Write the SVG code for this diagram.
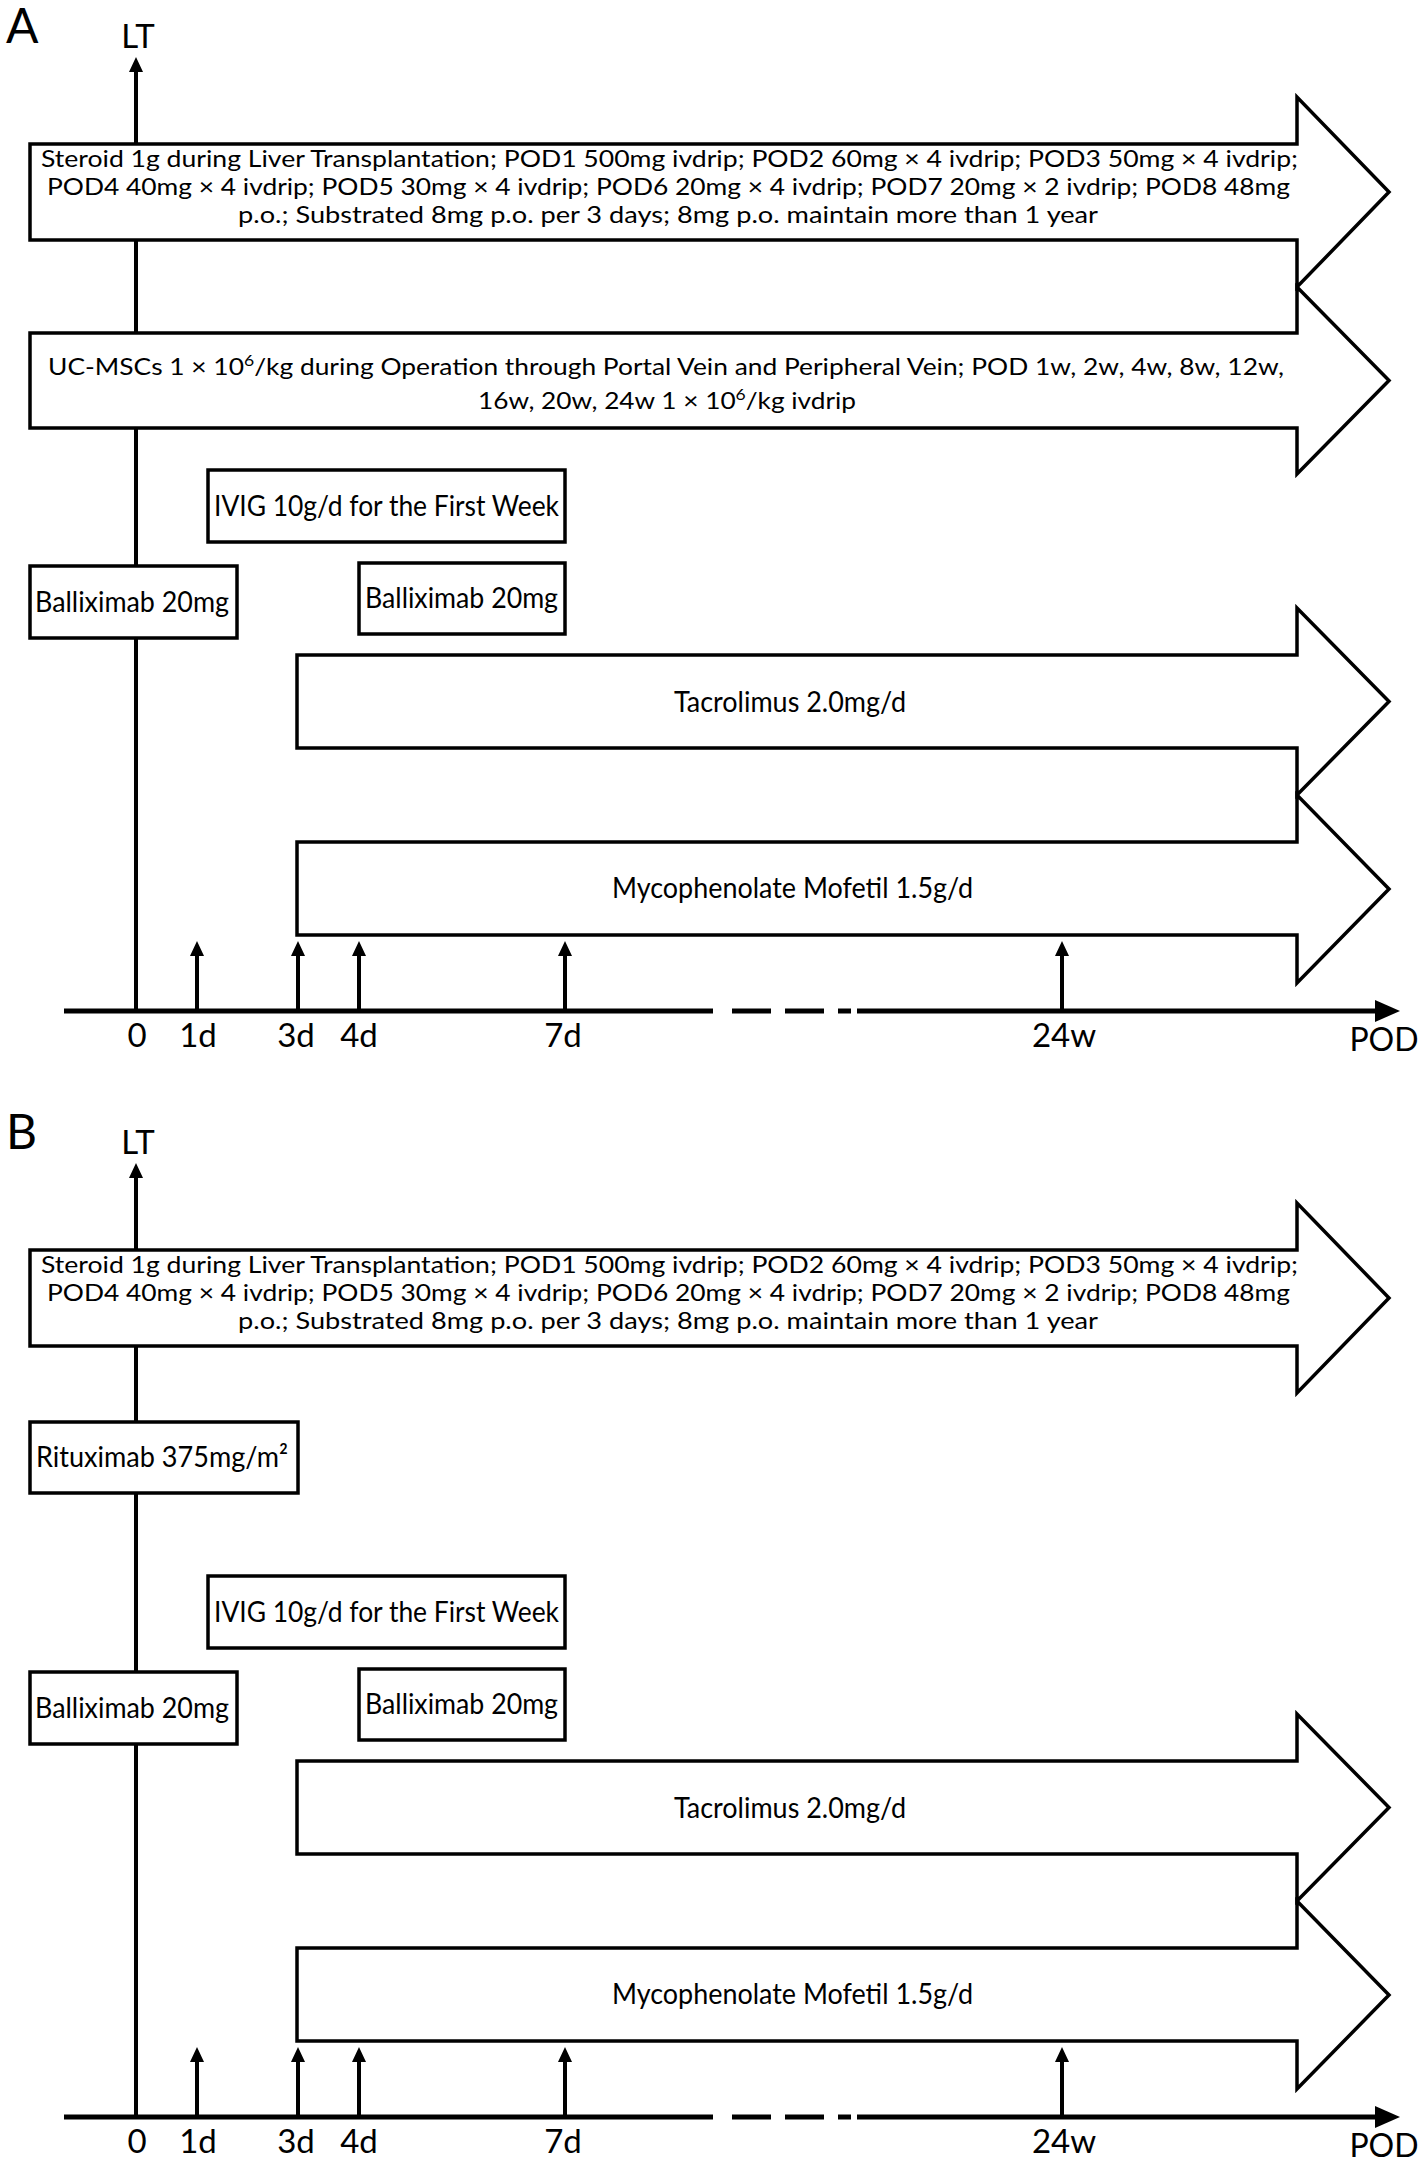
<svg xmlns="http://www.w3.org/2000/svg" width="1418" height="2162" viewBox="0 0 1418 2162">
<style>
text{font-family:Lato,"Open Sans","Liberation Sans",sans-serif;fill:#000}
.shape{fill:#fff;stroke:#000;stroke-width:3.5;stroke-linejoin:miter}
.box{fill:#fff;stroke:#000;stroke-width:3.5}
.sm{font-size:24px}
.bx{font-size:28.5px}
.ax{font-size:33px;text-anchor:middle}
.lt{stroke:#000;stroke-width:4;fill:none}
.tick{stroke:#000;stroke-width:4;fill:none;marker-end:url(#ah)}
.axis{stroke:#000;stroke-width:5;fill:none}
.panel{font-size:48px}
</style>
<defs>
<marker id="ah" markerUnits="userSpaceOnUse" markerWidth="16" markerHeight="16" refX="0" refY="8" orient="auto" viewBox="0 0 16 16">
<path d="M0,1 L15,8 L0,15 Z" fill="#000"/>
</marker>
</defs>

<!-- ========== PANEL A ========== -->
<g id="labelA"><text class="panel" x="6" y="43">A</text></g>
<g id="ltA"><text x="138" y="48" font-size="33" text-anchor="middle">LT</text></g>

<g id="connectorsA">
<line class="lt" x1="136" y1="1011" x2="136" y2="72" marker-end="url(#ah)"/>
<line class="tick" x1="197" y1="1011" x2="197" y2="956"/>
<line class="tick" x1="298" y1="1011" x2="298" y2="956"/>
<line class="tick" x1="359" y1="1011" x2="359" y2="956"/>
<line class="tick" x1="565" y1="1011" x2="565" y2="956"/>
<line class="tick" x1="1062" y1="1011" x2="1062" y2="956"/>
<g class="axis">
<line x1="64" y1="1011" x2="713" y2="1011"/>
<line x1="732" y1="1011" x2="771" y2="1011"/>
<line x1="785" y1="1011" x2="824" y2="1011"/>
<line x1="838" y1="1011" x2="851" y2="1011"/>
<line x1="857" y1="1011" x2="1377" y2="1011"/>
</g>
<polygon points="1375,1000 1400,1011 1375,1022" fill="#000"/>
</g>

<g id="steroidA">
<path class="shape" d="M30,144 H1297 V97 L1389,192 L1297,287 V240 H30 Z"/>
<text class="sm" x="41" y="167" textLength="1257" lengthAdjust="spacingAndGlyphs">Steroid 1g during Liver Transplantation; POD1 500mg ivdrip; POD2 60mg × 4 ivdrip; POD3 50mg × 4 ivdrip;</text>
<text class="sm" x="47" y="195" textLength="1243" lengthAdjust="spacingAndGlyphs">POD4 40mg × 4 ivdrip; POD5 30mg × 4 ivdrip; POD6 20mg × 4 ivdrip; POD7 20mg × 2 ivdrip; POD8 48mg</text>
<text class="sm" x="238" y="223" textLength="860" lengthAdjust="spacingAndGlyphs">p.o.; Substrated 8mg p.o. per 3 days; 8mg p.o. maintain more than 1 year</text>
</g>

<g id="ucmscA">
<path class="shape" d="M30,333 H1297 V287 L1389,380.5 L1297,474 V428 H30 Z"/>
<text class="sm" x="48" y="375" textLength="1236" lengthAdjust="spacingAndGlyphs">UC-MSCs 1 × 10<tspan dy="-9" font-size="16">6</tspan><tspan dy="9">/kg during Operation through Portal Vein and Peripheral Vein; POD 1w, 2w, 4w, 8w, 12w,</tspan></text>
<text class="sm" x="478" y="409" textLength="378" lengthAdjust="spacingAndGlyphs">16w, 20w, 24w 1 × 10<tspan dy="-9" font-size="16">6</tspan><tspan dy="9">/kg ivdrip</tspan></text>
</g>

<g id="ivigA">
<rect class="box" x="208" y="470" width="357" height="72"/>
<text class="bx" x="214" y="516" textLength="345" lengthAdjust="spacingAndGlyphs">IVIG 10g/d for the First Week</text>
</g>

<g id="balliximab1A">
<rect class="box" x="30" y="566" width="207" height="72"/>
<text class="bx" x="35" y="612" textLength="194" lengthAdjust="spacingAndGlyphs">Balliximab 20mg</text>
</g>

<g id="balliximab2A">
<rect class="box" x="359" y="563" width="206" height="71"/>
<text class="bx" x="365" y="608" textLength="193" lengthAdjust="spacingAndGlyphs">Balliximab 20mg</text>
</g>

<g id="tacrolimusA">
<path class="shape" d="M297,655 H1297 V608 L1389,701.5 L1297,795 V748 H297 Z"/>
<text class="bx" x="674" y="712" textLength="232" lengthAdjust="spacingAndGlyphs">Tacrolimus 2.0mg/d</text>
</g>

<g id="mycophenolateA">
<path class="shape" d="M297,842 H1297 V795 L1389,889 L1297,983 V935 H297 Z"/>
<text class="bx" x="612" y="898" textLength="361" lengthAdjust="spacingAndGlyphs">Mycophenolate Mofetil 1.5g/d</text>
</g>

<g id="axisLabelsA">
<text class="ax" x="137" y="1047">0</text>
<text class="ax" x="198" y="1047">1d</text>
<text class="ax" x="296" y="1047">3d</text>
<text class="ax" x="359" y="1047">4d</text>
<text class="ax" x="563" y="1047">7d</text>
<text class="ax" x="1064" y="1047">24w</text>
<text x="1384" y="1051" font-size="32" text-anchor="middle">POD</text>
</g>

<!-- ========== PANEL B ========== -->
<g id="labelB"><text class="panel" x="6" y="1149">B</text></g>
<g id="ltB"><text x="138" y="1154" font-size="33" text-anchor="middle">LT</text></g>

<g id="connectorsB">
<line class="lt" x1="136" y1="2117" x2="136" y2="1178" marker-end="url(#ah)"/>
<line class="tick" x1="197" y1="2117" x2="197" y2="2062"/>
<line class="tick" x1="298" y1="2117" x2="298" y2="2062"/>
<line class="tick" x1="359" y1="2117" x2="359" y2="2062"/>
<line class="tick" x1="565" y1="2117" x2="565" y2="2062"/>
<line class="tick" x1="1062" y1="2117" x2="1062" y2="2062"/>
<g class="axis">
<line x1="64" y1="2117" x2="713" y2="2117"/>
<line x1="732" y1="2117" x2="771" y2="2117"/>
<line x1="785" y1="2117" x2="824" y2="2117"/>
<line x1="838" y1="2117" x2="851" y2="2117"/>
<line x1="857" y1="2117" x2="1377" y2="2117"/>
</g>
<polygon points="1375,2106 1400,2117 1375,2128" fill="#000"/>
</g>

<g id="steroidB">
<path class="shape" d="M30,1250 H1297 V1203 L1389,1298 L1297,1393 V1346 H30 Z"/>
<text class="sm" x="41" y="1273" textLength="1257" lengthAdjust="spacingAndGlyphs">Steroid 1g during Liver Transplantation; POD1 500mg ivdrip; POD2 60mg × 4 ivdrip; POD3 50mg × 4 ivdrip;</text>
<text class="sm" x="47" y="1301" textLength="1243" lengthAdjust="spacingAndGlyphs">POD4 40mg × 4 ivdrip; POD5 30mg × 4 ivdrip; POD6 20mg × 4 ivdrip; POD7 20mg × 2 ivdrip; POD8 48mg</text>
<text class="sm" x="238" y="1329" textLength="860" lengthAdjust="spacingAndGlyphs">p.o.; Substrated 8mg p.o. per 3 days; 8mg p.o. maintain more than 1 year</text>
</g>

<g id="rituximabB">
<rect class="box" x="30" y="1422" width="268" height="71"/>
<text class="bx" x="36" y="1467" textLength="252" lengthAdjust="spacingAndGlyphs">Rituximab 375mg/m²</text>
</g>

<g id="ivigB">
<rect class="box" x="208" y="1576" width="357" height="72"/>
<text class="bx" x="214" y="1622" textLength="345" lengthAdjust="spacingAndGlyphs">IVIG 10g/d for the First Week</text>
</g>

<g id="balliximab1B">
<rect class="box" x="30" y="1672" width="207" height="72"/>
<text class="bx" x="35" y="1718" textLength="194" lengthAdjust="spacingAndGlyphs">Balliximab 20mg</text>
</g>

<g id="balliximab2B">
<rect class="box" x="359" y="1669" width="206" height="71"/>
<text class="bx" x="365" y="1714" textLength="193" lengthAdjust="spacingAndGlyphs">Balliximab 20mg</text>
</g>

<g id="tacrolimusB">
<path class="shape" d="M297,1761 H1297 V1714 L1389,1807.5 L1297,1901 V1854 H297 Z"/>
<text class="bx" x="674" y="1818" textLength="232" lengthAdjust="spacingAndGlyphs">Tacrolimus 2.0mg/d</text>
</g>

<g id="mycophenolateB">
<path class="shape" d="M297,1948 H1297 V1901 L1389,1995 L1297,2089 V2041 H297 Z"/>
<text class="bx" x="612" y="2004" textLength="361" lengthAdjust="spacingAndGlyphs">Mycophenolate Mofetil 1.5g/d</text>
</g>

<g id="axisLabelsB">
<text class="ax" x="137" y="2153">0</text>
<text class="ax" x="198" y="2153">1d</text>
<text class="ax" x="296" y="2153">3d</text>
<text class="ax" x="359" y="2153">4d</text>
<text class="ax" x="563" y="2153">7d</text>
<text class="ax" x="1064" y="2153">24w</text>
<text x="1384" y="2157" font-size="32" text-anchor="middle">POD</text>
</g>
</svg>
